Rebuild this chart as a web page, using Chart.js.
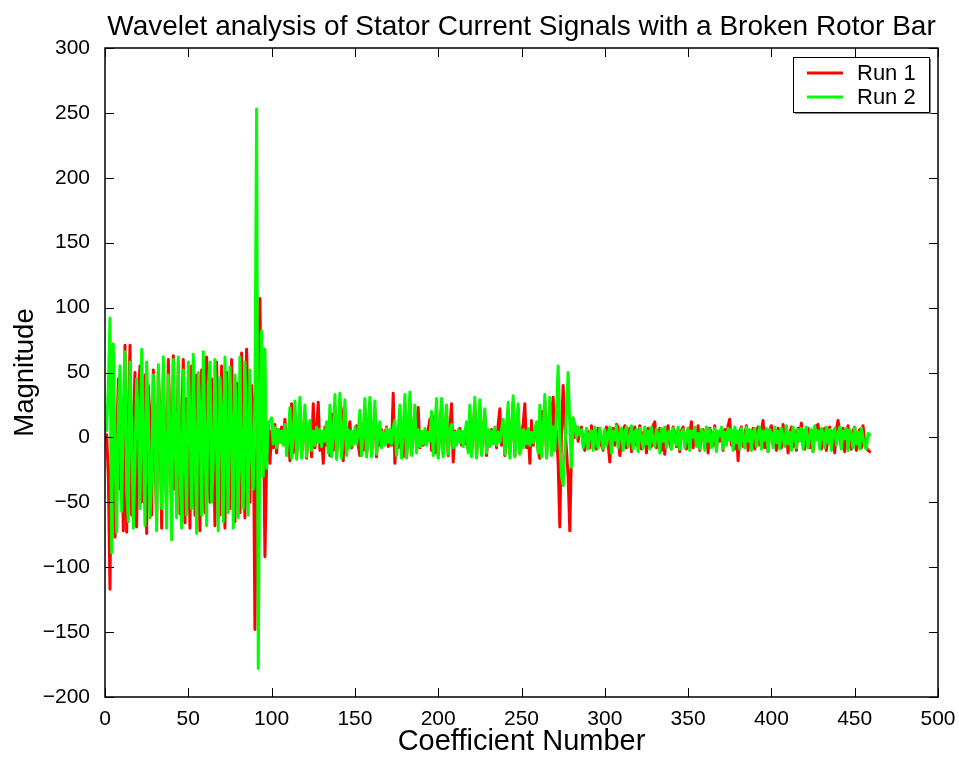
<!DOCTYPE html>
<html>
<head>
<meta charset="utf-8">
<script src="https://cdn.jsdelivr.net/npm/chart.js@4.4.1/dist/chart.umd.min.js"></script>
<style>html,body{margin:0;padding:0;background:#fff}</style>
</head>
<body>
<canvas id="wavelet" width="959" height="757"></canvas>
<script>
// wavelet coefficients, one value per coefficient (1..459)
const run1 = [
  2, -30, -117, 30, 63, -77, -10, 45, -40, 20,
  -72, 71, -73, 10, 71, -60, 5, 50, -69, 30,
  55, -50, -5, 48, -74, 40, 15, -60, 52, -10,
  -65, 50, 20, -70, 48, -5, -55, 60, 10, -60,
  63, -40, -20, 57, -59, 10, 60, -66, 30, 5,
  -70, 55, 20, -60, 48, -10, -72, 52, 15, -58,
  62, -20, -50, 45, 15, -68, 58, -5, -60, 55,
  10, -70, 50, 20, -55, 60, -15, -65, 42, 10,
  -58, 65, -10, -62, 68, 15, -50, 40, 20, -148,
  -20, 40, 107, -10, 30, -92, -20, 10, -20, 5,
  -8, 10, -12, 6, -3, 8, -5, 14, -10, 5,
  -18, 26, -12, 20, -15, 5, 24, -14, 3, 20,
  -16, 6, 10, -15, 26, -8, 5, 27, -10, 2,
  -20, 8, -6, 10, -14, 18, -10, 25, -15, 5,
  28, 20, -18, 22, -12, 4, 12, -8, 3, -4,
  9, -6, -14, 10, -10, 24, -14, 5, 27, -13,
  3, 22, -15, 8, -6, 6, -5, 3, 8, -7,
  4, -6, 34, -20, 6, -8, 20, -12, -15, 26,
  -14, 4, 28, -12, 5, 20, -10, 23, -8, 4,
  -6, 5, -4, 6, 14, -10, 16, -12, 24, -14,
  4, 26, -13, 5, 20, -14, 6, 26, -19, 5,
  -5, 3, 7, -6, 4, -5, 8, -10, 20, -13,
  5, 26, -15, 4, 24, -12, 6, 18, -14, 4,
  -6, 6, -4, 5, -8, 10, 22, -6, 10, -14,
  5, 22, -13, 4, 27, -14, 5, 22, -12, 4,
  10, 26, -8, 6, -20, 13, -6, 4, 8, -10,
  -16, 20, 4, 28, -15, 5, 26, 10, 31, -10,
  5, -20, -69, 5, 40, 10, -10, -30, -72, -10,
  15, 0, 8, -3, 6, 8, -5, -10, 6, 4,
  -8, 9, -3, 5, -9, 7, 2, -6, -10, 4,
  8, -5, -19, 3, 7, -6, 10, 8, -14, -4,
  6, 9, -8, 2, 7, -11, 4, 8, -6, -2,
  9, -9, 3, 6, -12, 7, 4, -7, 9, 12,
  -8, -4, 7, -10, 2, -13, 6, 9, -5, -9,
  8, 3, -7, 6, -11, 5, 8, -4, -9, 7,
  3, 12, -8, 4, -6, 9, -10, 2, 6, -8,
  5, -12, 7, 3, -6, 9, -9, 4, -3, 7,
  -10, 6, 2, 9, 14, -6, 3, -9, 5, -18,
  4, 8, -7, 2, 9, -10, 5, -4, 7, -9,
  3, 8, -6, 5, 13, -8, 2, -11, 6, 9,
  -5, 4, -10, 7, 1, -8, 10, -4, 6, -12,
  3, 8, -7, 5, -10, 7, 2, 11, -6, -9,
  5, 7, -8, 3, -11, 6, 9, 10, -5, -9,
  4, 7, -10, 2, 8, -7, 5, -12, 6, 13,
  4, -8, 7, -11, 3, 9, -6, -9, 5, 8,
  -10, 3, 6, -8, 9, -4, -7, -10, -11
];
const run2 = [
  5, 40, 92, -89, 72, -10, -73, 20, 55, -57,
  25, 66, -40, -65, 58, 10, -70, -20, 45, 15,
  -55, 68, 0, -68, 58, 20, -62, -30, 48, 5,
  -72, 56, 10, -55, 62, -15, -70, 48, 5, -79,
  60, 10, -62, 62, -20, -70, 52, -10, -60, 58,
  15, -55, 64, -5, -74, 50, 20, -60, 66, 0,
  -68, 40, 58, -50, -20, 60, -10, -72, 46, 22,
  -65, 62, -5, -58, 54, 10, -70, 48, 5, -62,
  62, -20, -55, 58, 0, -60, 52, -10, -40, 30,
  253, -178, 20, 82, -30, 68, -24, 12, 12, 15,
  -5, 8, -8, 6, -4, 5, -6, 10, -14, 2,
  23, -16, 4, 28, -17, 3, 31, -16, 2, 25,
  -15, 4, 13, -10, 5, -6, 8, -4, 6, -7,
  5, -3, 12, -12, 25, -15, 3, 33, -17, 4,
  34, -16, 2, 29, -14, 6, -8, 5, -6, 8,
  -5, 3, 21, -14, 4, 30, -15, 3, 31, -15,
  4, 28, -13, 5, 12, -8, 4, -6, 7, -4,
  6, -5, 8, 13, -14, 5, 25, -16, 4, 33,
  -16, 3, 35, -14, 4, 25, -12, 6, -7, 5,
  -5, 7, -6, 4, -3, 20, -14, 5, 30, -16,
  3, 30, -15, 4, 25, -13, 5, 10, -8, 4,
  -6, 6, -4, 5, -7, 4, 12, -12, 25, -15,
  4, 31, -16, 3, 29, -14, 5, 22, -12, 6,
  -7, 5, -5, 8, -6, 4, -4, 6, 14, -13,
  4, 27, -16, 3, 32, -15, 4, 26, -13, 6,
  -8, 5, -5, 7, -6, 4, -4, 6, 12, -12,
  25, -15, 4, 33, -16, 3, 31, -14, 8, -10,
  20, 55, 0, -30, -37, -10, 20, 50, 10, -23,
  15, 10, 0, 8, 2, 6, -8, -2, 7, -9,
  3, 5, -10, 8, -4, -8, 7, 0, -9, 6,
  -6, 3, 8, -12, 5, -2, 9, -8, 2, 7,
  -10, 4, 8, -7, -3, 9, -9, 4, 6, -11,
  7, 0, -8, 8, -5, 5, -9, 8, -2, -7,
  6, 2, -12, 7, -3, 8, -8, 3, 5, -9,
  7, -1, -6, 8, -9, 4, 6, -8, 2, 7,
  -10, 5, 0, 8, -7, 3, -9, 6, 4, -10,
  8, -3, 6, -8, 2, 7, -11, 5, 1, 8,
  -9, 4, -6, 7, -2, 6, -10, 8, -4, 5,
  -9, 7, 0, -8, 8, -3, 6, -10, 4, 7,
  -7, 2, 8, -9, 5, -2, 7, -11, 6, 3,
  -8, 8, -4, 5, -9, 7, 0, -7, 9, -5,
  4, -10, 8, 2, -8, 6, -3, 7, -9, 5,
  8, -8, 1, 6, -11, 9, -2, 5, -9, 7,
  3, -8, 8, -4, 6, -10, 4, 7, -6, 2,
  8, -9, 5, -1, 7, -10, 6, 2, -8, 8,
  -5, 4, -9, 7, 0, -7, -9, 3, 2
];
const seriesNames = ["Run 1", "Run 2"];
const seriesColors = ["#ff0000", "#00ff00"];
const xTicks = [0, 50, 100, 150, 200, 250, 300, 350, 400, 450, 500];
const yTicks = [-200, -150, -100, -50, 0, 50, 100, 150, 200, 250, 300];

const FONT = "'Liberation Sans', Arial, Helvetica, sans-serif";

function toPoints(arr) {
  return arr.map((v, i) => ({ x: i + 1, y: v }));
}

// MATLAB style box with inward ticks + legend box in the upper right
const matlabFrame = {
  id: 'matlabFrame',
  afterDatasetsDraw(chart) {
    const { ctx, chartArea: a, scales: { x, y } } = chart;
    ctx.save();
    ctx.strokeStyle = '#000';
    ctx.lineWidth = 1.5;
    ctx.strokeRect(a.left, a.top, a.right - a.left, a.bottom - a.top);
    ctx.lineWidth = 1;
    const len = 9;
    ctx.beginPath();
    xTicks.forEach(v => {
      const px = Math.round(x.getPixelForValue(v)) + 0.5;
      ctx.moveTo(px, a.bottom); ctx.lineTo(px, a.bottom - len);
      ctx.moveTo(px, a.top); ctx.lineTo(px, a.top + len);
    });
    yTicks.forEach(v => {
      const py = Math.round(y.getPixelForValue(v)) + 0.5;
      ctx.moveTo(a.left, py); ctx.lineTo(a.left + len, py);
      ctx.moveTo(a.right, py); ctx.lineTo(a.right - len, py);
    });
    ctx.stroke();

    // legend
    const lx = a.right - 145, ly = a.top + 9, lw = 136, lh = 55;
    ctx.fillStyle = '#808080';
    ctx.fillRect(lx + 2, ly + 2, lw, lh);
    ctx.fillStyle = '#fff';
    ctx.fillRect(lx, ly, lw, lh);
    ctx.strokeStyle = '#000';
    ctx.lineWidth = 1;
    ctx.strokeRect(lx + 0.5, ly + 0.5, lw, lh);
    ctx.font = '22px ' + FONT;
    ctx.textBaseline = 'middle';
    ctx.textAlign = 'left';
    chart.data.datasets.forEach(ds => {
      const k = ds.legendIndex;
      const cy = ly + 16 + k * 24;
      ctx.strokeStyle = ds.borderColor;
      ctx.lineWidth = 3;
      ctx.beginPath();
      ctx.moveTo(lx + 14, cy);
      ctx.lineTo(lx + 50, cy);
      ctx.stroke();
      ctx.fillStyle = '#000';
      ctx.fillText(ds.label, lx + 64, cy + 1);
    });
    ctx.restore();
  }
};

new Chart(document.getElementById('wavelet'), {
  type: 'line',
  data: {
    datasets: [
      { label: seriesNames[1], legendIndex: 1, data: toPoints(run2), borderColor: seriesColors[1], order: 0 },
      { label: seriesNames[0], legendIndex: 0, data: toPoints(run1), borderColor: seriesColors[0], order: 1 }
    ]
  },
  options: {
    responsive: false,
    animation: false,
    devicePixelRatio: 1,
    layout: { padding: { left: 0, right: 21, top: 0, bottom: 0 } },
    elements: {
      point: { radius: 0 },
      line: { borderWidth: 3, tension: 0, borderJoinStyle: 'round', borderCapStyle: 'round' }
    },
    plugins: {
      legend: { display: false },
      tooltip: { enabled: false },
      title: {
        display: true,
        fullSize: false,
        text: 'Wavelet analysis of Stator Current Signals with a Broken Rotor Bar',
        color: '#000',
        font: { family: FONT, size: 28, weight: 'normal' },
        padding: { top: 10, bottom: 4.4 }
      }
    },
    scales: {
      x: {
        type: 'linear',
        min: 0, max: 500,
        grid: { display: false },
        border: { display: false },
        afterBuildTicks: s => { s.ticks = xTicks.map(v => ({ value: v })); },
        afterFit: s => { s.height = 60; },
        ticks: { color: '#000', padding: 2, font: { family: FONT, size: 21 }, maxRotation: 0 },
        title: { display: true, text: 'Coefficient Number', color: '#000', padding: { top: 0, bottom: 0 }, font: { family: FONT, size: 29, lineHeight: 1.05 } }
      },
      y: {
        type: 'linear',
        min: -200, max: 300,
        grid: { display: false },
        border: { display: false },
        afterBuildTicks: s => { s.ticks = yTicks.map(v => ({ value: v })); },
        afterFit: s => { s.width = 105; },
        ticks: {
          color: '#000', padding: 7, font: { family: FONT, size: 21 },
          callback: v => String(v).replace('-', '\u2212')
        },
        title: { display: true, text: 'Magnitude', color: '#000', padding: { top: 9, bottom: 0 }, font: { family: FONT, size: 27.5 } }
      }
    }
  },
  plugins: [matlabFrame]
});
</script>
</body>
</html>
